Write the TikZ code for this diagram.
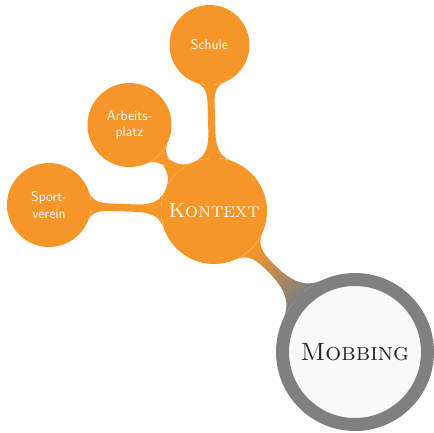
\documentclass[tikz,border=0pt]{standalone}
\usetikzlibrary{mindmap,backgrounds}
\definecolor{konorange}{RGB}{247,150,40}
\definecolor{mobgray}{RGB}{128,128,128}
\begin{document}
\begin{tikzpicture}[x=1pt,y=-1pt,
  bubble/.style={circle, inner sep=0pt, fill=konorange, text=white, align=center},
  leaf/.style={bubble, minimum size=84pt, font=\sffamily\fontsize{14}{16.5}\selectfont},
  ]
\useasboundingbox (0,0) rectangle (434,432);
\node[circle, inner sep=0pt, minimum size=145pt, fill=gray!5, draw=mobgray, line width=13pt,
      font=\fontsize{25}{30}\selectfont\scshape, text=black!85] (mob) at (355,352) {Mobbing};
\node[bubble, minimum size=106pt, font=\fontsize{20.7}{25}\selectfont\scshape] (kon) at (214,211) {Kontext};
\node[leaf, minimum size=80pt] (sch) at (209.5,45) {Schule};
\node[leaf] (arb) at (129.5,125) {Arbeits-\\platz};
\node[leaf] (spo) at (49,205) {Sport-\\verein};
\begin{scope}[on background layer]
\path[line width=11pt] (kon) to[circle connection bar switch color=from (konorange) to (mobgray)] (mob);
\path[line width=6pt] (kon) to[circle connection bar switch color=from (konorange) to (konorange)] (sch);
\path[line width=6pt] (kon) to[circle connection bar switch color=from (konorange) to (konorange)] (arb);
\path[line width=6pt] (kon) to[circle connection bar switch color=from (konorange) to (konorange)] (spo);
\end{scope}
\end{tikzpicture}
\end{document}
